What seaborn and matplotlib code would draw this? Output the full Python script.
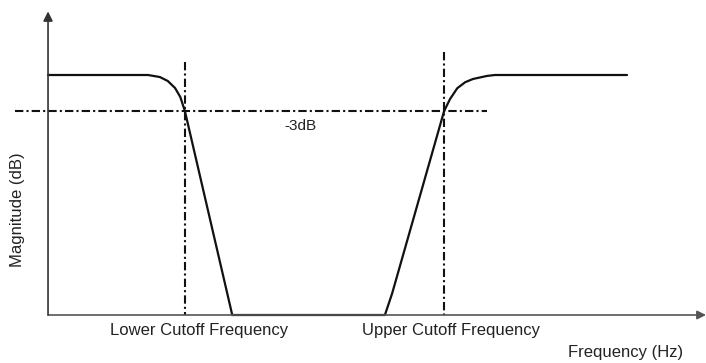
import numpy as np
import pandas as pd
import matplotlib
matplotlib.use("Agg")
import matplotlib.pyplot as plt
import seaborn as sns

# band-stop response (arbitrary frequency units, dB)
freq = [0.0, 15.2, 17.0, 18.2, 19.3, 20.1, 20.8, 28.0,
        51.2, 52.3, 60.2, 61.1, 62.2, 63.4, 64.6, 66.7, 67.9, 88.0]
magnitude = [0.0, 0.0, -0.17, -0.5, -1.08, -1.83, -3.0, -20.0,
             -20.0, -18.2, -3.0, -2.0, -1.1, -0.6, -0.33, -0.08, 0.0, 0.0]

lower_cutoff = 20.8
upper_cutoff = 60.2
level_3db = -3.0
floor_db = -20.0

cutoff_labels = ["Lower Cutoff Frequency", "Upper Cutoff Frequency"]
x_label = "Frequency (Hz)"
y_label = "Magnitude (dB)"

sns.set_style("white")
plt.rcParams["font.family"] = ["Liberation Sans", "DejaVu Sans"]

df = pd.DataFrame({"freq": freq, "magnitude": magnitude})

fig = plt.figure(figsize=(7.06, 3.63), dpi=100)
ax = fig.add_axes([0, 0, 1, 1])
ax.set_xlim(-7.3, 100)
ax.set_ylim(-24.0, 6.25)
ax.axis("off")

axis_col = "#555555"
dashdot = (0, (4, 1.5, 1, 1.5))

# axes with arrows
ax.annotate("", xy=(100, floor_db), xytext=(0, floor_db),
            arrowprops=dict(arrowstyle="-|>", color=axis_col, lw=1.2,
                            mutation_scale=13, shrinkA=0, shrinkB=0))
ax.annotate("", xy=(0, 5.3), xytext=(0, floor_db),
            arrowprops=dict(arrowstyle="-|>", color="#333333", lw=1.2,
                            mutation_scale=14, shrinkA=0, shrinkB=0))

# -3 dB reference and cutoff markers
ax.plot([-5.0, 66.7], [level_3db, level_3db], color="#111111", lw=1.5, linestyle=dashdot)
ax.plot([lower_cutoff, lower_cutoff], [1.08, floor_db], color="#111111", lw=1.5, linestyle=dashdot)
ax.plot([upper_cutoff, upper_cutoff], [1.9, floor_db], color="#111111", lw=1.5, linestyle=dashdot)

sns.lineplot(data=df, x="freq", y="magnitude", ax=ax, color="#111111",
             linewidth=1.6, sort=False, estimator=None)

ax.text(38.3, -4.25, "-3dB", fontsize=11, ha="center", va="center", color="#222222")
ax.text(23.0, -21.25, cutoff_labels[0], fontsize=12, ha="center", va="center", color="#222222")
ax.text(61.2, -21.25, cutoff_labels[1], fontsize=12, ha="center", va="center", color="#222222")
ax.text(87.7, -23.1, x_label, fontsize=12, ha="center", va="center", color="#222222")
ax.text(-4.7, -11.25, y_label, fontsize=12, ha="center", va="center",
        rotation=90, color="#222222")

fig.savefig("out.png", dpi=100)
